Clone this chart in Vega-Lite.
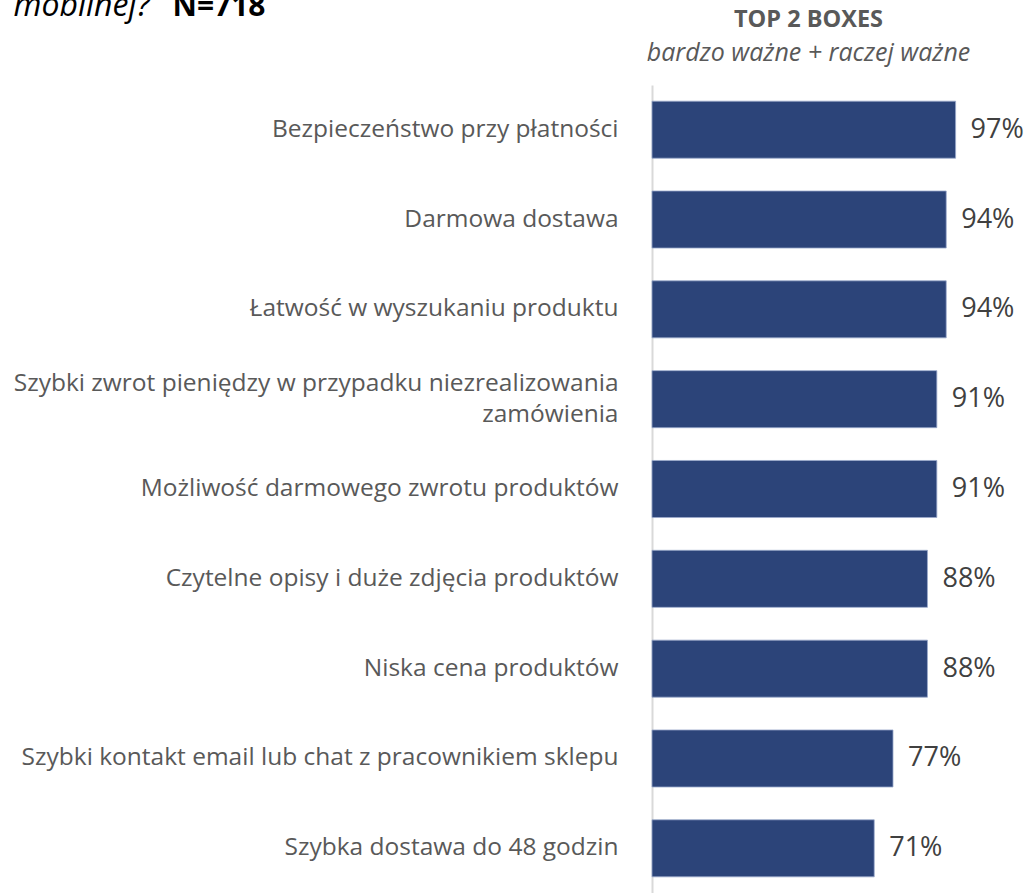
{
  "$schema": "https://vega.github.io/schema/vega-lite/v6.json",
  "autosize": "none",
  "width": 313,
  "height": 808,
  "padding": {"left": 652, "top": 85, "right": 68, "bottom": 0},
  "background": "white",
  "config": {"view": {"stroke": null}, "font": "Open Sans"},
  "title": {
    "text": "TOP 2 BOXES",
    "subtitle": "bardzo ważne + raczej ważne",
    "anchor": "middle",
    "frame": "group",
    "fontSize": 23.5,
    "fontWeight": "bold",
    "color": "#595959",
    "subtitleFontSize": 25,
    "subtitleFontStyle": "italic",
    "subtitleColor": "#595959",
    "subtitlePadding": 10,
    "offset": -77
  },
  "data": {
    "values": [
      {"cecha": "Bezpieczeństwo przy płatności", "wartosc": 0.97},
      {"cecha": "Darmowa dostawa", "wartosc": 0.94},
      {"cecha": "Łatwość w wyszukaniu produktu", "wartosc": 0.94},
      {"cecha": "Szybki zwrot pieniędzy w przypadku niezrealizowania|zamówienia", "wartosc": 0.91},
      {"cecha": "Możliwość darmowego zwrotu produktów", "wartosc": 0.91},
      {"cecha": "Czytelne opisy i duże zdjęcia produktów", "wartosc": 0.88},
      {"cecha": "Niska cena produktów", "wartosc": 0.88},
      {"cecha": "Szybki kontakt email lub chat z pracownikiem sklepu", "wartosc": 0.77},
      {"cecha": "Szybka dostawa do 48 godzin", "wartosc": 0.71}
    ]
  },
  "encoding": {
    "y": {
      "field": "cecha",
      "type": "nominal",
      "sort": null,
      "scale": {"paddingInner": 0.365, "paddingOuter": 0.18},
      "axis": {
        "title": "N=718",
        "titleAngle": 0,
        "titleX": -480,
        "titleY": -70,
        "titleAlign": "left",
        "titleBaseline": "alphabetic",
        "titleFontSize": 30,
        "titleFontWeight": "bold",
        "titleColor": "#000000",
        "labelExpr": "split(datum.label, '|')",
        "labelFontSize": 24.5,
        "labelColor": "#595959",
        "labelPadding": 34,
        "labelLineHeight": 31,
        "labelOffset": {"condition": {"test": "indexof(datum.value, '|') >= 0", "value": -15.5}, "value": 0},
        "labelLimit": 700,
        "ticks": false,
        "domain": true,
        "domainColor": "#D9D9D9",
        "domainWidth": 2
      }
    },
    "x": {
      "field": "wartosc",
      "type": "quantitative",
      "scale": {"domain": [0, 1]},
      "axis": {
        "orient": "top",
        "title": "mobilnej?",
        "titleX": -639,
        "titleY": -70,
        "titleAlign": "left",
        "titleBaseline": "alphabetic",
        "titleFontSize": 32,
        "titleFontStyle": "italic",
        "titleFontWeight": "normal",
        "titleColor": "#000000",
        "labels": false,
        "ticks": false,
        "domain": false,
        "grid": false
      }
    }
  },
  "layer": [
    {"mark": {"type": "bar", "color": "#2C4479", "stroke": "#9AAACB", "strokeWidth": 0.8}},
    {
      "mark": {"type": "text", "align": "left", "baseline": "middle", "dx": 15, "fontSize": 27, "color": "#404040"},
      "encoding": {"text": {"field": "wartosc", "type": "quantitative", "format": ".0%"}}
    }
  ]
}
